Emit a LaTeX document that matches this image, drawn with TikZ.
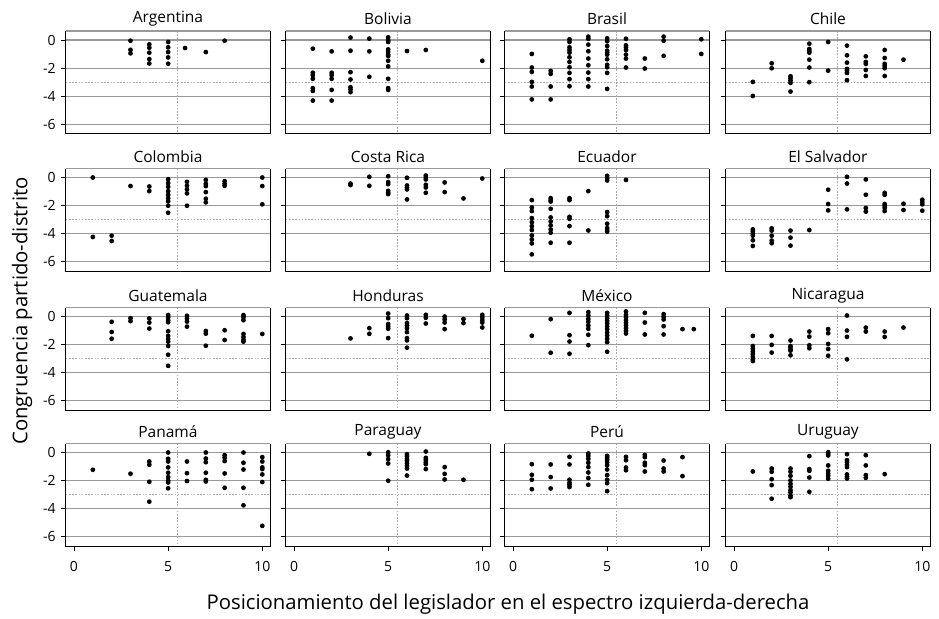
\documentclass[tikz,border=0pt]{standalone}
\usepackage{fontspec}
\setmainfont{Open Sans}
\definecolor{gridgray}{HTML}{9A9A9A}
\definecolor{refgray}{HTML}{A8A8A8}
\tikzset{
  gridln/.style={draw=gridgray, line width=1.15pt},
  refln/.style={draw=refgray, line width=0.6pt, dash pattern=on 1.6pt off 1.6pt},
  frameln/.style={draw=black, line width=0.9pt},
  topln/.style={draw=gridgray, line width=1.15pt},
  ttl/.style={font=\fontsize{15.5}{17}\selectfont, inner sep=0pt},
  ticklbl/.style={font=\fontsize{14}{16}\selectfont, inner sep=0pt},
  axttl/.style={font=\fontsize{20.3}{22}\selectfont, inner sep=0pt},
}
\newcommand\drawpanel[5]{%
\begin{scope}[shift={(#1pt,-#2pt)},x=18.83pt,y=14.05pt]
  \foreach \g in {0,-2,-4,-6} \draw[gridln] (-0.44,\g) -- (10.41,\g);
  \draw[refln] (-0.44,-3) -- (10.41,-3);
  \draw[refln] (5.5,0.64) -- (5.5,-6.66);
  \foreach \g in {0,-2,-4,-6} \draw[frameln] (-0.44,\g) -- ++(-5pt,0pt);
  \foreach \p/\ys in {#5} {\foreach \q in \ys {\fill (\p,\q) circle[radius=2.4pt];}}
  \draw[topln] (-0.44,0.64) -- (10.41,0.64);
  \draw[frameln] (10.41,0.64) -- (10.41,-6.66) -- (-0.44,-6.66) -- (-0.44,0.64);
  \node[ttl] (#3) at (4.99,1.5) {#4};
\end{scope}}
\begin{document}
\begin{tikzpicture}
\useasboundingbox (0,0) rectangle (939pt,-618pt);
% row 1
\drawpanel{74}{40}{arg}{Argentina}{3/{-0.05,-0.7,-0.95}, 4/{-0.31,-0.55,-0.9,-1.36,-1.67}, 5/{-0.14,-0.52,-0.86,-1.24,-1.69}, 5.9/{-0.57}, 7/{-0.86}, 8/{-0.05}}
\drawpanel{294}{40}{bol}{Bolivia}{1/{-0.62,-2.33,-2.5,-2.76,-3.43,-3.62,-4.31}, 2/{-0.81,-2.33,-2.5,-2.76,-3.55,-4.31}, 3/{0.17,-0.76,-2.29,-2.81,-3.36,-3.52,-3.71}, 4/{0.1,-0.81,-2.62}, 5/{0.19,-0.02,-0.14,-0.67,-0.86,-1.05,-1.14,-1.48,-1.88,-2.76,-3.43,-3.55}, 6/{-0.79}, 7/{-0.71}, 10/{-1.48}}
\drawpanel{513}{40}{bra}{Brasil}{1/{-0.99,-1.96,-2.27,-2.98,-3.31,-4.23}, 2/{-2.2,-2.41,-3.31,-4.23}, 3/{0.05,-0.14,-0.52,-0.71,-0.9,-1.23,-1.56,-1.94,-2.34,-2.79,-3.29}, 4/{0.24,0.09,-0.33,-0.8,-1.32,-1.8,-2.32,-2.79,-3.31}, 5/{0.12,-0.09,-0.43,-0.76,-0.9,-1.04,-1.37,-1.77,-1.94,-2.34,-3.48}, 6/{0.09,-0.38,-0.52,-0.71,-1.04,-1.32,-1.96}, 7/{-1.32,-2.03}, 8/{0.24,-0.05,-1.13}, 10/{0.05,-0.99}}
\drawpanel{734}{40}{chi}{Chile}{1/{-2.98,-3.98}, 2/{-1.66,-2.01}, 3/{-2.58,-2.72,-2.89,-3.05,-3.67}, 4/{-0.26,-0.64,-0.78,-0.9,-1.4,-1.96,-3.0}, 5/{-0.14,-2.18}, 6/{-0.4,-1.09,-1.61,-2.06,-2.18,-2.34,-2.86}, 7/{-1.16,-1.56,-1.7,-2.13,-2.56}, 8/{-0.71,-1.28,-1.7,-1.85,-2.01,-2.56}, 9/{-1.4}}
% row 2
\drawpanel{74}{177.5}{col}{Colombia}{1/{0,-4.23}, 2/{-4.14,-4.52}, 3/{-0.61}, 4/{-0.64,-0.97}, 5/{-0.12,-0.4,-0.66,-0.97,-1.23,-1.47,-1.7,-2.01,-2.51}, 6/{-0.31,-0.59,-0.85,-1.13,-2.01}, 7/{-0.17,-0.45,-0.61,-1.04,-1.51,-1.77}, 8/{-0.26,-0.45,-0.59}, 10/{0,-0.61,-1.91}}
\drawpanel{294}{177.5}{cri}{Costa Rica}{3/{-0.43,-0.54}, 4/{0.05,-0.59}, 5/{0.09,-0.33,-0.47,-0.95,-1.09,-1.18}, 6/{-0.02,-0.57,-0.71,-0.85,-1.56}, 7/{0.14,0,-0.14,-0.52,-0.71,-1.09}, 8/{-0.35,-1.04}, 9/{-1.49}, 10/{-0.07}}
\drawpanel{513}{177.5}{ecu}{Ecuador}{1/{-1.61,-2.13,-2.39,-2.89,-3.18,-3.46,-3.74,-4.12,-4.41,-4.69,-5.47}, 2/{-1.47,-1.61,-1.71,-2.23,-2.84,-3.13,-3.41,-3.7,-3.93,-4.64}, 3/{-1.47,-1.61,-2.8,-2.94,-3.46,-4.64}, 4/{-0.97,-3.77}, 5/{0.12,-0.05,-0.21,-2.46,-2.75,-3.29,-3.6,-3.74,-3.86}, 6/{-0.17}}
\drawpanel{734}{177.5}{slv}{El Salvador}{1/{-3.69,-3.83,-4.0,-4.14,-4.47,-4.87}, 2/{-3.62,-3.78,-4.14,-4.49,-4.68}, 3/{-3.78,-4.28,-4.85}, 4/{-3.74}, 5/{-0.87,-1.89,-2.34}, 6/{0.05,-0.43,-2.27}, 7/{-0.14,-1.23,-2.17,-2.43}, 8/{-1.09,-1.23,-1.89,-2.03,-2.17,-2.39}, 9/{-1.87,-2.32}, 10/{-1.58,-1.75,-1.91,-2.36}}
% row 3
\drawpanel{74}{316.5}{gua}{Guatemala}{2/{-0.38,-1.1,-1.58}, 3/{-0.12,-0.33}, 4/{-0.14,-0.43,-0.86}, 5/{0.1,-0.07,-0.26,-0.41,-1.05,-1.38,-1.6,-1.79,-2.1,-2.72,-3.51}, 6/{0.05,-0.14,-0.36,-0.72}, 7/{-1.03,-1.22,-2.08}, 8/{-0.98,-1.67}, 9/{0.1,-0.05,-0.26,-1.24,-1.46,-1.67,-1.79}, 10/{-1.24}}
\drawpanel{294}{316.5}{hon}{Honduras}{3/{-1.56}, 4/{-0.83,-1.23}, 5/{0.21,-0.12,-0.54,-0.71,-0.87,-1.54}, 6/{0.07,-0.12,-0.47,-0.64,-0.83,-1.11,-1.54,-1.7,-2.22}, 7/{0.12,-0.09,-0.5}, 8/{0,-0.21,-0.43,-0.9}, 9/{-0.17,-0.47}, 10/{0.12,-0.07,-0.26,-0.43,-0.78}}
\drawpanel{513}{316.5}{mex}{México}{1/{-1.37}, 2/{-0.19,-2.58}, 3/{0.26,-1.33,-1.78,-2.65}, 4/{0.31,0.07,-0.17,-0.38,-0.64,-0.88,-1.3,-2.04}, 5/{0.26,0.07,-0.12,-0.31,-0.5,-0.71,-0.9,-1.14,-1.35,-1.59,-1.82,-2.51}, 6/{0.36,0.12,-0.07,-0.26,-0.45,-0.64,-0.83,-1.02,-1.21}, 7/{0.26,-0.43,-1.28}, 8/{0.17,-0.02,-0.21,-0.69,-1.28}, 9/{-0.9}, 9.6/{-0.9}}
\drawpanel{734}{316.5}{nic}{Nicaragua}{1/{-1.38,-2.1,-2.29,-2.48,-2.67,-2.88,-3.05,-3.17}, 2/{-1.38,-2.02,-2.57}, 3/{-1.71,-2.1,-2.19,-2.33,-2.43,-2.76}, 4/{-1.07,-1.43,-2.05,-2.26}, 5/{-0.9,-1.19,-1.95,-2.31,-2.79}, 6/{0.07,-1.0,-1.45,-3.05}, 7/{-0.79,-1.07}, 8/{-1.07,-1.45}, 9/{-0.79}}
% row 4
\drawpanel{74}{452.5}{pan}{Panamá}{1/{-1.23}, 3/{-1.51}, 4/{-0.64,-0.87,-2.08,-3.5}, 5/{0,-0.45,-0.64,-1.06,-1.44,-1.75,-2.01,-2.13,-2.55}, 6/{-0.64,-1.47,-2.03}, 7/{0,-0.43,-0.69,-1.44,-1.94,-2.06}, 8/{-0.19,-0.38,-0.61,-1.49,-2.51}, 9/{0,-0.73,-1.21,-2.51,-3.76}, 10/{-0.33,-0.64,-1.06,-1.18,-1.56,-2.1,-5.22}}
\drawpanel{294}{452.5}{par}{Paraguay}{4/{-0.09}, 5/{0.02,-0.19,-0.47,-0.78,-2.01}, 6/{-0.12,-0.26,-0.45,-0.59,-0.76,-0.95,-1.14,-1.64}, 7/{0.07,-0.38,-0.52,-0.69,-0.83,-1.18}, 8/{-1.04,-1.52,-1.92}, 9/{-1.94}}
\drawpanel{513}{452.5}{per}{Perú}{1/{-0.83,-1.59,-1.94,-2.61}, 2/{-0.85,-1.75,-2.56}, 3/{-0.31,-0.85,-1.94,-2.16,-2.3,-2.46}, 4/{-0.07,-0.24,-0.45,-0.73,-1.04,-1.42,-1.82,-2.3}, 5/{-0.24,-0.38,-0.52,-0.69,-0.9,-1.21,-1.61,-1.94,-2.18,-2.75}, 6/{-0.31,-0.55,-1.07,-1.26}, 7/{-0.17,-0.33,-0.73,-0.9,-1.35}, 8/{-0.57,-1.14,-1.35}, 9/{-0.33,-1.68}}
\drawpanel{734}{452.5}{uru}{Uruguay}{1/{-1.35}, 2/{-1.14,-1.37,-1.9,-2.32,-3.29}, 3/{-1.14,-1.37,-1.66,-1.99,-2.23,-2.44,-2.68,-2.84,-3.06,-3.18}, 4/{-0.26,-1.18,-1.3,-1.78,-2.8}, 5/{0.02,-0.09,-0.21,-0.92,-1.3,-1.49,-1.66,-1.87}, 6/{-0.12,-0.55,-0.69,-0.88,-1.04,-1.56,-1.73,-1.85}, 7/{-0.19,-0.92,-1.61,-1.8}, 8/{-1.54}}
% y tick labels (first column)
\foreach \oy [count=\r] in {40,177.5,316.5,452.5} {
  \begin{scope}[shift={(74pt,-\oy pt)},x=18.83pt,y=14.05pt]
    \foreach \g in {0,-2,-4,-6} \node[ticklbl, anchor=east] (yl\r\g) at (-0.96,\g) {\g};
  \end{scope}
}
% x ticks and labels (bottom row)
\foreach \ox [count=\c] in {74,294,513,734} {
  \begin{scope}[shift={(\ox pt,-452.5pt)},x=18.83pt,y=14.05pt]
    \foreach \k in {0,5,10} {
      \draw[frameln] (\k,-6.66) -- ++(0pt,-5pt);
      \node[ticklbl] (xl\c\k) at (\k,-8.14) {\k};
    }
  \end{scope}
}
\node[axttl, rotate=90] (ytitle) at (22pt,-311pt) {Congruencia partido-distrito};
\node[axttl] (xtitle) at (508pt,-604pt) {Posicionamiento del legislador en el espectro izquierda-derecha};
\end{tikzpicture}
\end{document}
